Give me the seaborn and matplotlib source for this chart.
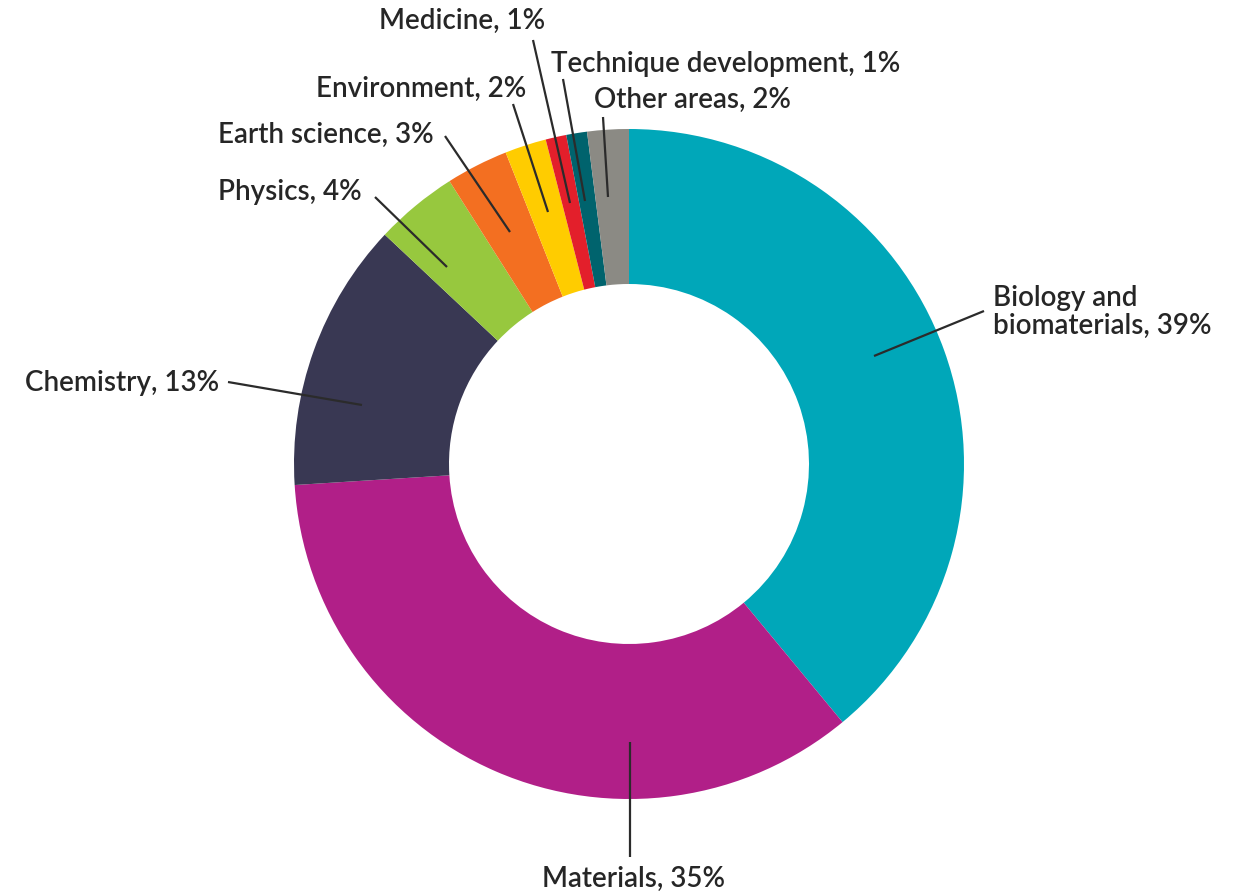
import matplotlib
matplotlib.use("Agg")
import matplotlib.pyplot as plt
import seaborn as sns

# Share of work by research area (percent), clockwise from 12 o'clock
categories = ["Biology and\nbiomaterials", "Materials", "Chemistry", "Physics",
              "Earth science", "Environment", "Medicine",
              "Technique development", "Other areas"]
shares = [39, 35, 13, 4, 3, 2, 1, 1, 2]
colors = ["#00A7B9", "#B11F88", "#393853", "#97C83E", "#F36F21",
          "#FFCC00", "#E31F2B", "#00636D", "#8B8A84"]

# Label placement in figure pixels (origin top-left):
# text anchor x, text y, horizontal alignment, leader start (outer), leader end (in ring)
W, H = 1251, 895
layout = [
    (993, 312, "left",   (984, 312), (874, 357)),
    (633, 879, "center", (630, 858), (630, 743)),
    (219, 383, "right",  (228, 383), (362, 406)),
    (362, 192, "right",  (375, 198), (447, 268)),
    (434, 135, "right",  (445, 137), (510, 233)),
    (526, 89,  "right",  (513, 105), (548, 213)),
    (545, 21,  "right",  (533, 41),  (570, 204)),
    (551, 64,  "left",   (563, 80),  (585, 202)),
    (594, 100, "left",   (603, 118), (608, 198)),
]

sns.set_theme(style="white")
plt.rcParams["font.family"] = ["Lato", "DejaVu Sans"]

fig = plt.figure(figsize=(W / 100, H / 100), dpi=100)
ax = fig.add_axes([0, 0, 1, 1])

cx, cy, R = 629, H - 465, 335
ax.pie(shares, colors=colors, startangle=90, counterclock=False,
       center=(cx, cy), radius=R, frame=True,
       wedgeprops=dict(width=R - 180, linewidth=0, antialiased=True))
ax.set_xlim(0, W)
ax.set_ylim(0, H)
ax.set_aspect("equal")
ax.axis("off")

for name, val, (tx, ty, ha, p0, p1) in zip(categories, shares, layout):
    ax.plot([p0[0], p1[0]], [H - p0[1], H - p1[1]], color="#2b2b2b",
            lw=1.6, solid_capstyle="butt", zorder=5)
    ax.text(tx, H - ty, f"{name}, {val}%", ha=ha, va="center",
            fontsize=20, color="#262626", fontweight="semibold",
            linespacing=1.1)

fig.savefig("out.png", dpi=100, facecolor="white")
